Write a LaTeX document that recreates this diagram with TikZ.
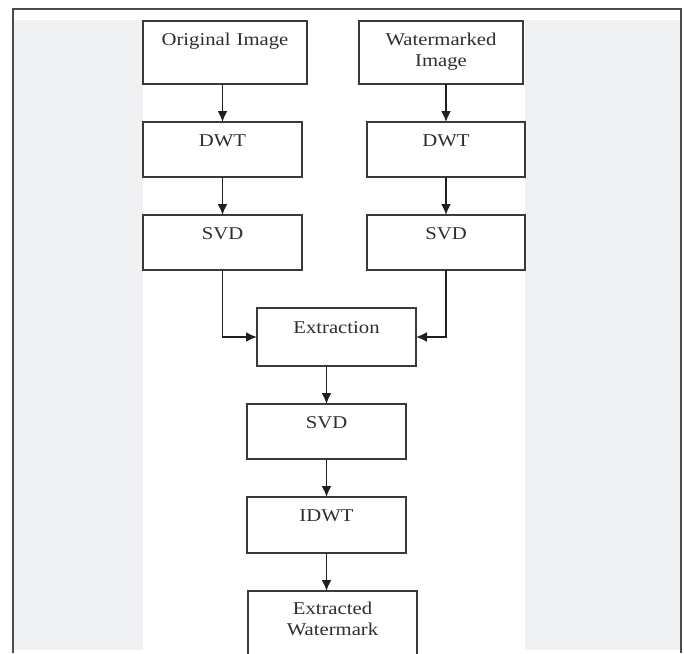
\documentclass[tikz,border=0pt]{standalone}
\usepackage{fontspec}
\setmainfont{Liberation Serif}[FakeStretch=1.15]
\usepackage{tikz}
\usetikzlibrary{positioning, arrows.meta}
\definecolor{bggray}{HTML}{F0F1F3}
\definecolor{boxline}{HTML}{3A3A3A}
\definecolor{txtgray}{HTML}{2E2E2E}
\definecolor{frameline}{HTML}{4A4A4A}
\tikzset{arco/.style={line width=1.9pt, draw=black!88, -{Latex[length=11pt,width=10pt]}}}
\tikzset{blk/.style={draw=boxline, line width=1.8pt, inner sep=0pt, outer sep=0pt,
    align=center, text=txtgray, text width=159pt, text height=24pt, text depth=31pt}}

\begin{document}
\begin{tikzpicture}[
            x=1pt, y=-1pt,
            font=\fontsize{18}{21}\selectfont
        ]
            \useasboundingbox (0,0) rectangle (684,653);
            \clip (0,0) rectangle (684,653);
            % page background and frame
            \fill[white] (0,0) rectangle (684,653);
            \fill[bggray] (13,20) rectangle (143,650);
            \fill[bggray] (525,20) rectangle (681,650);
            \draw[line width=1.5pt, draw=frameline] (13,653) -- (13,9) -- (681,9) -- (681,653);

            \node[blk, anchor=north west, text width=164pt, text depth=39pt] (orig) at (143,21) {Original Image};
            \node[blk, anchor=north west, text width=164pt, text depth=39pt] (wimg) at (359,21) {Watermarked\\Image};
            \node[blk, anchor=north west] (dwtL) at (143,122) {DWT};
            \node[blk, below= 38pt of dwtL] (svdL) {SVD};
            \node[blk, anchor=north west, text width=158pt] (dwtR) at (367,122) {DWT};
            \node[blk, below= 38pt of dwtR, text width=158pt] (svdR) {SVD};
            \node[blk, anchor=north west, text height=25pt, text depth=33pt] (extr) at (257,308) {Extraction};
            \node[blk, anchor=north west] (svdC) at (247,404) {SVD};
            \node[blk, below= 38pt of svdC, text depth=32pt] (idwt) {IDWT};
            \node[blk, anchor=north west, text width=169pt, text height=23pt, text depth=60pt] (exwm) at (248,591) {Extracted\\Watermark};

            \draw[arco] (orig.south -| dwtL.north) to [] (dwtL.north);
            \draw[arco] (dwtL.south) to [] (svdL.north);
            \draw[arco] (wimg.south -| dwtR.north) to [] (dwtR.north);
            \draw[arco] (dwtR.south) to [] (svdR.north);
            \draw[arco] (svdL.south) |- (extr.west);
            \draw[arco] (svdR.south) |- (extr.east);
            \draw[arco] (extr.south -| svdC.north) to [] (svdC.north);
            \draw[arco] (svdC.south) to [] (idwt.north);
            \draw[arco] (idwt.south) to [] (idwt.south |- exwm.north);
        \end{tikzpicture}
\end{document}
